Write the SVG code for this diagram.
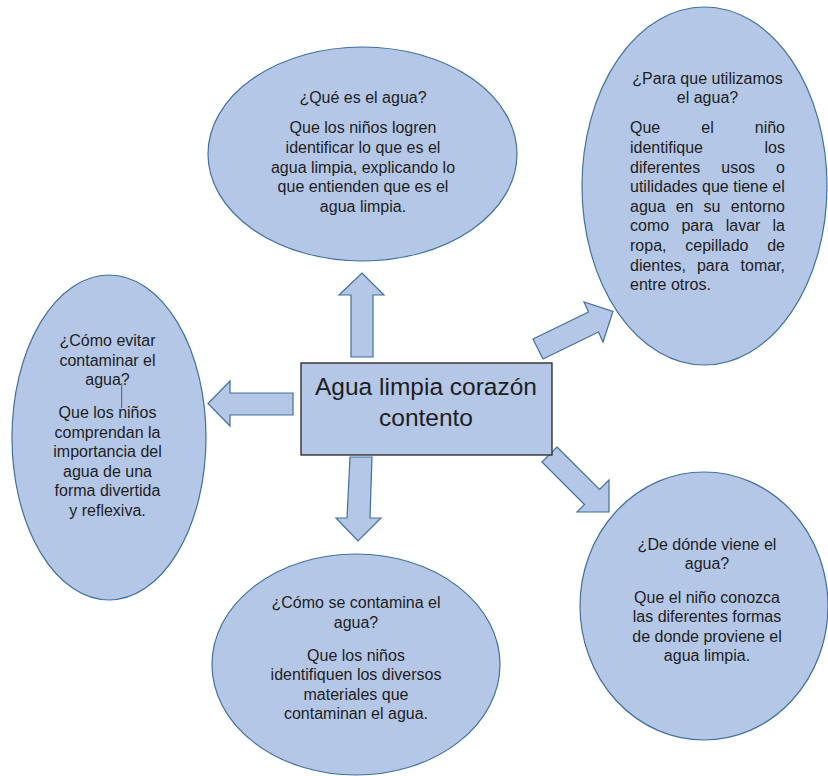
<svg xmlns="http://www.w3.org/2000/svg" width="828" height="776" viewBox="0 0 828 776">
<style>
.shape{fill:#B4C7E7;stroke:#41719C;stroke-width:1.2}
.box{fill:#B4C7E7;stroke:#222;stroke-width:1.3}
text{font-family:"Liberation Sans",Arial,sans-serif;font-size:16px;fill:#1e1e1e}
.c{text-anchor:middle}
.e{text-anchor:end}
.big{font-size:24.5px}
</style>
<rect width="828" height="776" fill="#fff"/>
<g id="connectors">
<polygon class="shape" points="351,357 351,295 339,295 362,273 384,295 373,295 373,357"/>
<polygon class="shape" points="293,393 230,393 230,381 208,403.5 230,426 230,415 293,415"/>
<polygon class="shape" points="350,457 372,457 370,518 381,518 358,541 336,518 347,518"/>
<polygon class="shape" points="533,339 588.5,312 584,302 613,311.5 603,342 598.5,332 543,359"/>
<polygon class="shape" points="557,447 599.5,489.5 609,480 609,512 577,512 584.5,504.5 542,462"/>
</g>
<g id="center">
<rect class="box" x="301" y="363" width="251" height="92"/>
<text class="c big" x="426" y="395">Agua limpia corazón</text>
<text class="c big" x="426" y="425.5">contento</text>
</g>
<g id="que-es">
<ellipse class="shape" cx="362.5" cy="154" rx="154.5" ry="107"/>
<text class="c" x="363" y="103">¿Qué es el agua?</text>
<text class="c" x="363" y="133.3">Que los niños logren</text>
<text class="c" x="363" y="153">identificar lo que es el</text>
<text class="c" x="363" y="172.6">agua limpia, explicando lo</text>
<text class="c" x="363" y="192.2">que entienden que es el</text>
<text class="c" x="363" y="211.8">agua limpia.</text>
</g>
<g id="para-que">
<ellipse class="shape" cx="704.5" cy="186" rx="122.5" ry="179"/>
<text class="c" x="707.5" y="84">¿Para que utilizamos</text>
<text class="c" x="707.5" y="102.5">el agua?</text>
<text x="630" y="133.3">Que</text><text x="701.3" y="133.3">el</text><text class="e" x="785" y="133.3">niño</text>
<text x="630" y="152.9">identifique</text><text class="e" x="785" y="152.9">los</text>
<text x="630" y="172.5">diferentes</text><text x="721.3" y="172.5">usos</text><text class="e" x="785" y="172.5">o</text>
<text x="630" y="192.1">utilidades que tiene el</text>
<text x="630" y="211.7">agua</text><text x="675.7" y="211.7">en</text><text x="703.6" y="211.7">su</text><text class="e" x="785" y="211.7">entorno</text>
<text x="630" y="231.3">como</text><text x="681.4" y="231.3">para</text><text x="725.7" y="231.3">lavar</text><text class="e" x="785" y="231.3">la</text>
<text x="630" y="250.9">ropa,</text><text x="685.3" y="250.9">cepillado</text><text class="e" x="785" y="250.9">de</text>
<text x="630" y="270.5">dientes,</text><text x="696.9" y="270.5">para</text><text class="e" x="785" y="270.5">tomar,</text>
<text x="630" y="290.1">entre otros.</text>
</g>
<g id="como-evitar">
<ellipse class="shape" cx="109" cy="437.5" rx="97" ry="162.5"/>
<text class="c" x="107.5" y="346">¿Cómo evitar</text>
<text class="c" x="107.5" y="365.6">contaminar el</text>
<text class="c" x="107.5" y="385.2">agua?</text>
<text class="c" x="107.5" y="418">Que los niños</text>
<text class="c" x="107.5" y="437.6">comprendan la</text>
<text class="c" x="107.5" y="457.2">importancia del</text>
<text class="c" x="107.5" y="476.8">agua de una</text>
<text class="c" x="107.5" y="496.4">forma divertida</text>
<text class="c" x="107.5" y="516">y reflexiva.</text>
<line x1="121.7" y1="383" x2="121.7" y2="408" stroke="#6b5a45" stroke-width="1"/>
</g>
<g id="como-se-contamina">
<ellipse class="shape" cx="356" cy="664.5" rx="144" ry="110.5"/>
<text class="c" x="356" y="608">¿Cómo se contamina el</text>
<text class="c" x="356" y="627.5">agua?</text>
<text class="c" x="356" y="660.7">Que los niños</text>
<text class="c" x="356" y="680.2">identifiquen los diversos</text>
<text class="c" x="356" y="699.6">materiales que</text>
<text class="c" x="356" y="719">contaminan el agua.</text>
</g>
<g id="de-donde">
<ellipse class="shape" cx="704" cy="606" rx="124" ry="134"/>
<text class="c" x="707" y="550">¿De dónde viene el</text>
<text class="c" x="707" y="569.2">agua?</text>
<text class="c" x="707" y="602.7">Que el niño conozca</text>
<text class="c" x="707" y="622.2">las diferentes formas</text>
<text class="c" x="707" y="641.7">de donde proviene el</text>
<text class="c" x="707" y="661.2">agua limpia.</text>
</g>
</svg>
